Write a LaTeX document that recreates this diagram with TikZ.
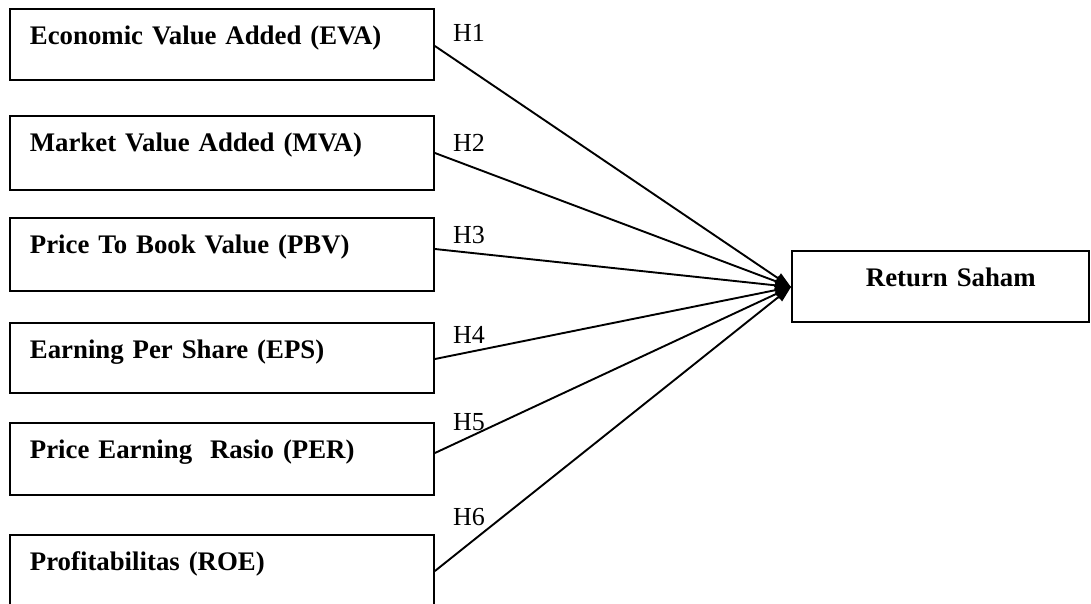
\documentclass[tikz,border=0pt]{standalone}
\usepackage{fontspec}
\setmainfont{Liberation Serif}
\usetikzlibrary{arrows.meta,calc}
\begin{document}
\begin{tikzpicture}[x=1pt,y=-1pt,
  varbox/.style={draw,line width=1.9pt,anchor=north west,inner xsep=20pt,inner ysep=6pt,
    text width=384pt,align=left,text height=30pt,
    font=\fontsize{26.8}{32}\selectfont\bfseries},
  hlabel/.style={anchor=base west,inner sep=0pt,font=\fontsize{26}{30}\selectfont},
  conn/.style={line width=1.9pt,-{Triangle[length=16pt,width=11pt]}}]
\useasboundingbox (0,0) rectangle (1091,603);
\clip (0,0) rectangle (1091,603);
\node[varbox,text depth=29pt] (b1) at (9,8) {Economic Value Added (EVA)};
\node[varbox,text depth=32pt] (b2) at (9,115) {Market Value Added (MVA)};
\node[varbox,text depth=31pt] (b3) at (9,217) {Price To Book Value (PBV)};
\node[varbox,text depth=28pt] (b4) at (9,322) {Earning Per Share (EPS)};
\node[varbox,text depth=30pt] (b5) at (9,422) {Price Earning\ \ Rasio (PER)};
\node[varbox,text depth=80pt] (b6) at (9,534) {Profitabilitas (ROE)};
\node[varbox,text width=257pt,text depth=29pt] (rs) at (791,250) {\hspace*{54pt}Return Saham};
\coordinate (tip) at ([yshift=-37pt]rs.north west);
\node[hlabel] (h1) at (453,41) {H1};
\node[hlabel] (h2) at (453,151) {H2};
\node[hlabel] (h3) at (453,243) {H3};
\node[hlabel] (h4) at (453,343) {H4};
\node[hlabel] (h5) at (453,430) {H5};
\node[hlabel] (h6) at (453,525) {H6};
\draw[conn] ([yshift=-38pt]b1.north east) -- (tip);
\draw[conn] ([yshift=-38pt]b2.north east) -- (tip);
\draw[conn] ([yshift=-32pt]b3.north east) -- (tip);
\draw[conn] ([yshift=-37pt]b4.north east) -- (tip);
\draw[conn] ([yshift=-31pt]b5.north east) -- (tip);
\draw[conn] ([yshift=-37pt]b6.north east) -- (tip);
\end{tikzpicture}
\end{document}
